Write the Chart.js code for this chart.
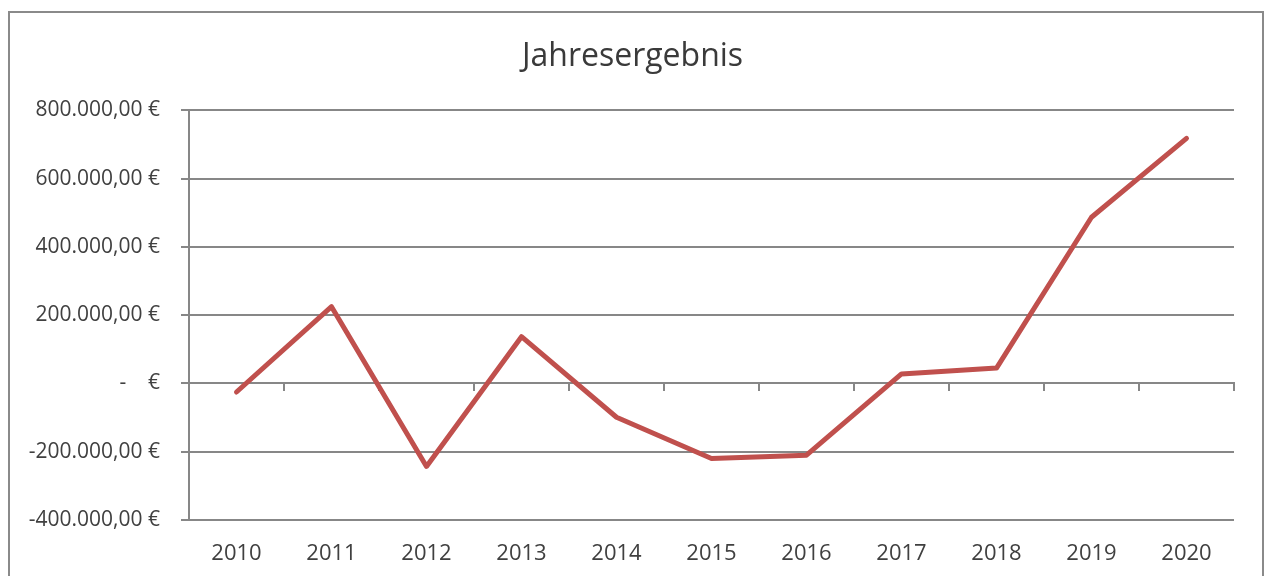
<!DOCTYPE html>
<html>
<head>
<meta charset="utf-8">
<script src="https://cdn.jsdelivr.net/npm/chart.js@4/dist/chart.umd.min.js"></script>
<style>
  html, body { margin: 0; padding: 0; background: #fff; overflow: hidden; }
  #frame {
    position: absolute; left: 8px; top: 11px; width: 1252px; height: 600px;
    border: 2px solid #8a8a8a;
  }
  #wrap { position: absolute; left: 0; top: 0; width: 1265px; height: 576px; }
</style>
</head>
<body>
<div id="frame"></div>
<div id="wrap"><canvas id="canvas"></canvas></div>
<script>
const years = ["2010", "2011", "2012", "2013", "2014", "2015", "2016", "2017", "2018", "2019", "2020"];
const jahresergebnis = [-25000, 225000, -243000, 137000, -99000, -220000, -210000, 28000, 45000, 487000, 718000];
const yMin = -400000;
const yMax = 800000;
const yStep = 200000;

const textColor = "#404040";
const gridColor = "#878787";
const fontFamily = "'Open Sans', 'Noto Sans', sans-serif";

// 800000 -> "800.000,00 €", 0 -> "-   €"
function euro(v) {
  if (v === 0) return "-    €";
  const neg = v < 0;
  let s = String(Math.abs(Math.round(v)));
  s = s.replace(/\B(?=(\d{3})+(?!\d))/g, ".");
  return (neg ? "-" : "") + s + ",00 €";
}

new Chart(document.getElementById("canvas").getContext("2d"), {
  type: "line",
  data: {
    labels: years,
    datasets: [{
      label: "Jahresergebnis",
      data: jahresergebnis,
      borderColor: "#C0504D",
      borderWidth: 5,
      borderCapStyle: "round",
      borderJoinStyle: "round",
      pointRadius: 0,
      tension: 0,
      xAxisID: "x",
      yAxisID: "y",
    }],
  },
  options: {
    responsive: true,
    maintainAspectRatio: false,
    animation: false,
    layout: { padding: 0 },
    plugins: {
      legend: { display: false },
      tooltip: { enabled: false },
      title: {
        display: true,
        text: "Jahresergebnis",
        color: "#3a3a3a",
        font: { family: fontFamily, size: 32, weight: "normal" },
        padding: { top: 38, bottom: 34 },
      },
    },
    scales: {
      x: {
        type: "category",
        position: "bottom",
        offset: true,
        grid: { display: false, drawTicks: false },
        border: { display: false },
        ticks: {
          color: textColor,
          font: { family: fontFamily, size: 22 },
          padding: 21,
          maxRotation: 0,
        },
        afterFit: (scale) => { scale.height = 56; },
      },
      // axis line at zero with tick marks between the years
      x0: {
        type: "category",
        labels: years,
        position: { y: 0 },
        offset: true,
        grid: {
          display: true,
          offset: true,
          drawOnChartArea: false,
          drawTicks: true,
          tickLength: 7,
          color: gridColor,
          lineWidth: 2,
        },
        border: { display: true, color: gridColor, width: 2 },
        ticks: { display: false },
      },
      y: {
        min: yMin,
        max: yMax,
        ticks: {
          stepSize: yStep,
          color: textColor,
          font: { family: fontFamily, size: 21 },
          padding: 21,
          callback: (v) => euro(v),
        },
        grid: { color: gridColor, lineWidth: 2, tickLength: 8, drawTicks: true },
        border: { display: true, color: gridColor, width: 2 },
        afterFit: (scale) => { scale.width = 189; },
      },
      // empty right margin so the title stays centred on the whole frame
      yRight: {
        position: "right",
        min: yMin,
        max: yMax,
        ticks: { display: false },
        grid: { display: false, drawTicks: false },
        border: { display: false },
        afterFit: (scale) => { scale.width = 31; },
      },
    },
  },
});
</script>
</body>
</html>
